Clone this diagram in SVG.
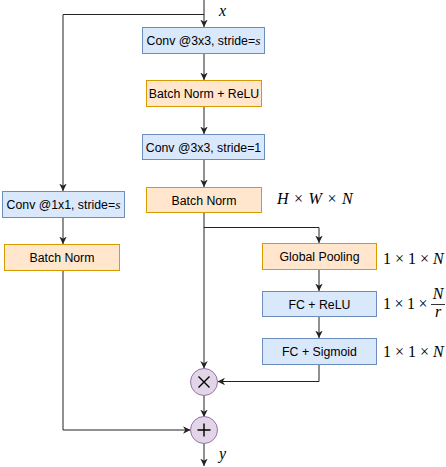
<svg xmlns="http://www.w3.org/2000/svg" width="446" height="467" viewBox="0 0 446 467">
<style>
.blue{fill:#dae8fc;stroke:#6c8ebf;stroke-width:1}
.orange{fill:#ffe6cc;stroke:#d79b00;stroke-width:1}
.purple{fill:#e1d5e7;stroke:#9673a6;stroke-width:1}
.lbl{font-family:"Liberation Sans",Arial,sans-serif;font-size:12.3px;fill:#000;text-anchor:middle}
.it{font-family:"Liberation Serif","Times New Roman",serif;font-style:italic}
.math{font-family:"Liberation Serif","Times New Roman",serif;font-size:16px;fill:#000}
.conn path{fill:none;stroke:#222;stroke-width:1}
.op{fill:none;stroke:#000;stroke-width:1.4}
</style>
<defs>
<marker id="arr" viewBox="0 0 10 10" refX="10" refY="5" markerWidth="7.5" markerHeight="7.5" markerUnits="userSpaceOnUse" orient="auto">
<path d="M0,0 L10,5 L0,10 L3,5 z" fill="#222"/>
</marker>
</defs>
<rect width="446" height="467" fill="#fff"/>
<g class="conn">
<path d="M204,0 V27" marker-end="url(#arr)"/>
<path d="M204,14.5 H63 V191" marker-end="url(#arr)"/>
<path d="M204,54 V80" marker-end="url(#arr)"/>
<path d="M204,107 V134" marker-end="url(#arr)"/>
<path d="M204,160 V187" marker-end="url(#arr)"/>
<path d="M204,213 V368.5" marker-end="url(#arr)"/>
<path d="M204,227.5 H319 V243" marker-end="url(#arr)"/>
<path d="M319,270 V291" marker-end="url(#arr)"/>
<path d="M319,317 V338" marker-end="url(#arr)"/>
<path d="M319,365 V381.5 H217.5" marker-end="url(#arr)"/>
<path d="M204,395.5 V417" marker-end="url(#arr)"/>
<path d="M63,218 V244" marker-end="url(#arr)"/>
<path d="M63,271 V430 H190.5" marker-end="url(#arr)"/>
<path d="M204,443.5 V466" marker-end="url(#arr)"/>
</g>
<g id="conv1">
<rect class="blue" x="142.5" y="27.5" width="122" height="26"/>
<text class="lbl" x="203.5" y="45">Conv @3x3, stride=<tspan class="it" font-size="13.5">s</tspan></text>
</g>
<g id="bnrelu">
<rect class="orange" x="146.5" y="80.5" width="115" height="26"/>
<text class="lbl" x="204" y="98">Batch Norm + ReLU</text>
</g>
<g id="conv2">
<rect class="blue" x="142.5" y="134.5" width="122" height="25"/>
<text class="lbl" x="203.5" y="151.5">Conv @3x3, stride=1</text>
</g>
<g id="bn1">
<rect class="orange" x="146.5" y="187.5" width="115" height="25"/>
<text class="lbl" x="204" y="204.5">Batch Norm</text>
</g>
<g id="convs">
<rect class="blue" x="2.5" y="191.5" width="122" height="26"/>
<text class="lbl" x="63.5" y="209">Conv @1x1, stride=<tspan class="it" font-size="13.5">s</tspan></text>
</g>
<g id="bn2">
<rect class="orange" x="4.5" y="244.5" width="115" height="26"/>
<text class="lbl" x="62" y="262">Batch Norm</text>
</g>
<g id="gpool">
<rect class="orange" x="262.5" y="243.5" width="114" height="26"/>
<text class="lbl" x="319.5" y="261">Global Pooling</text>
</g>
<g id="fcrelu">
<rect class="blue" x="262.5" y="291.5" width="114" height="25"/>
<text class="lbl" x="319.5" y="308.5">FC + ReLU</text>
</g>
<g id="fcsig">
<rect class="blue" x="262.5" y="338.5" width="114" height="26"/>
<text class="lbl" x="319.5" y="356">FC + Sigmoid</text>
</g>
<g id="mul">
<circle class="purple" cx="204" cy="382" r="13.5"/>
<path class="op" d="M198.5,376.5 L209.5,387.5 M209.5,376.5 L198.5,387.5"/>
</g>
<g id="add">
<circle class="purple" cx="204" cy="430" r="13.5"/>
<path class="op" d="M197.5,430 H210.5 M204,423.5 V436.5"/>
</g>
<g id="labels">
<text class="math it" x="219" y="16">x</text>
<text class="math it" x="219" y="459">y</text>
<text class="math" x="277" y="203.5" word-spacing="1.5"><tspan class="it">H</tspan> × <tspan class="it">W</tspan> × <tspan class="it">N</tspan></text>
<text class="math" x="383" y="263.5">1 × 1 × <tspan class="it">N</tspan></text>
<text class="math" x="383" y="309" word-spacing="-0.5">1 × 1 ×</text>
<text class="math it" x="438" y="298.5" text-anchor="middle">N</text>
<path d="M431,304.5 H445" stroke="#000" stroke-width="0.8"/>
<text class="math it" x="438" y="317" text-anchor="middle">r</text>
<text class="math" x="383" y="356.5">1 × 1 × <tspan class="it">N</tspan></text>
</g>
</svg>
